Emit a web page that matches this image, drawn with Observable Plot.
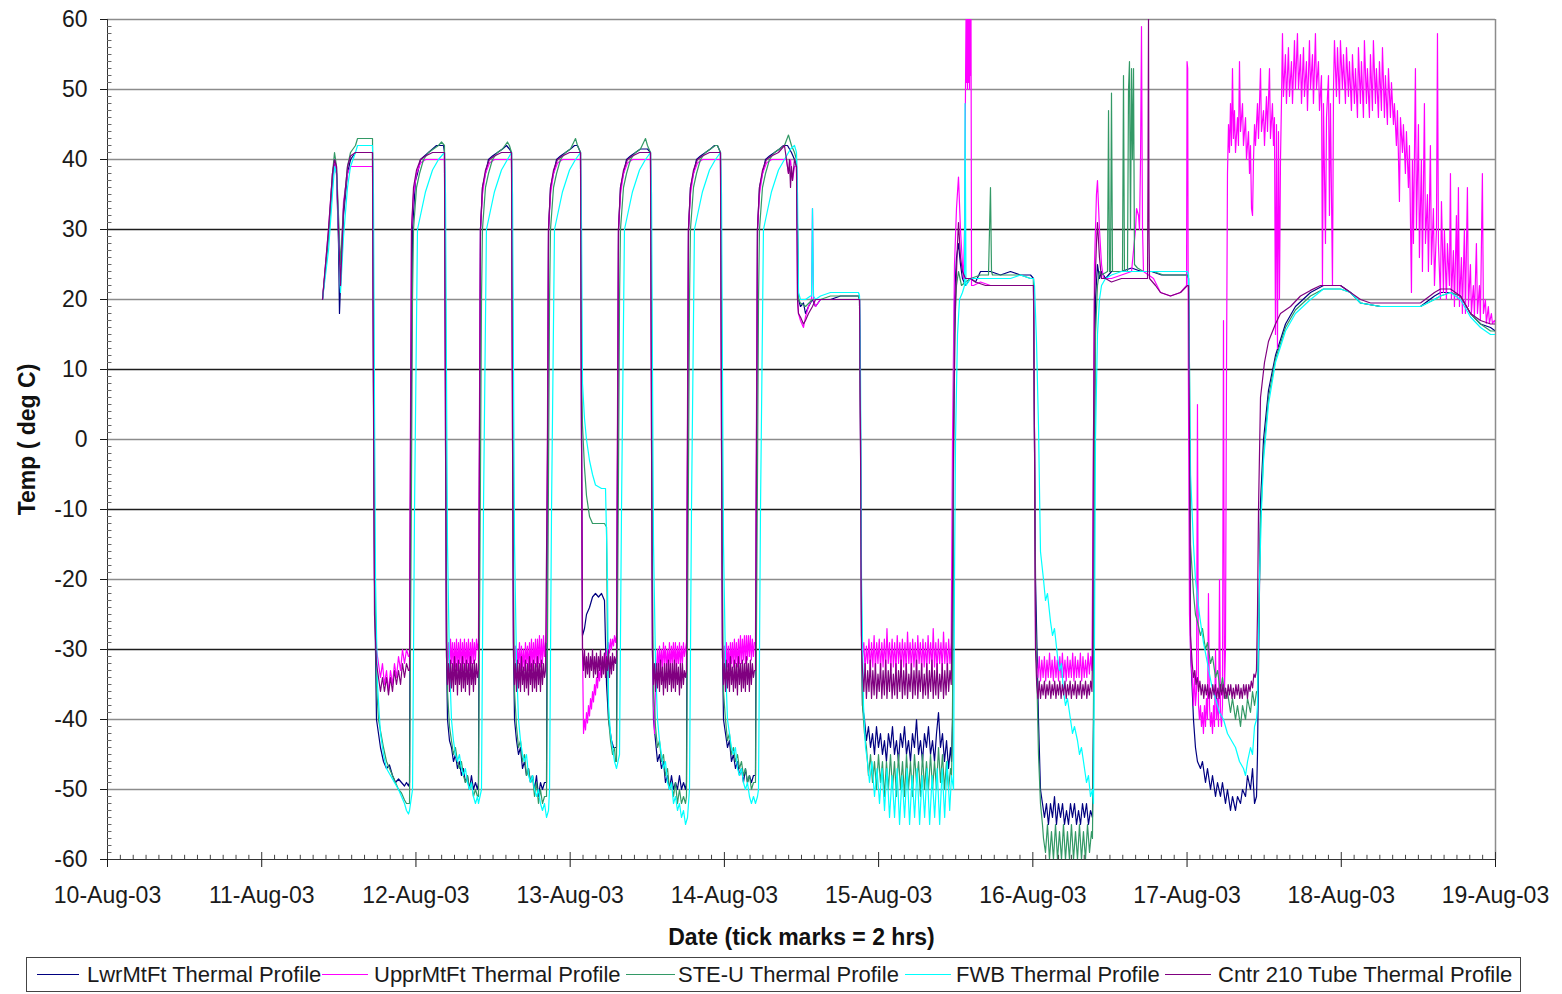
<!DOCTYPE html>
<html><head><meta charset="utf-8">
<script src="https://cdn.jsdelivr.net/npm/d3@7"></script>
<script src="https://cdn.jsdelivr.net/npm/@observablehq/plot@0.6"></script>
<style>
body{margin:0;background:#fff;font-family:"Liberation Sans",Arial,sans-serif;}
#chart{position:absolute;left:0;top:0;}
#legend{position:absolute;left:26px;top:957px;width:1495px;height:35px;border:1px solid #444;box-sizing:border-box;font-size:22px;color:#1a1a1a;}
.sw{position:absolute;top:16px;height:0;border-top:1.5px solid;}
.lt{position:absolute;top:5px;white-space:nowrap;line-height:24px;}
</style></head><body>
<div id="chart"></div><div id="legend"></div>
<script>
// hours since 10-Aug-03 00:00, temperature deg C
const seriesNames = ["LwrMtFt Thermal Profile","UpprMtFt Thermal Profile","STE-U Thermal Profile","FWB Thermal Profile","Cntr 210 Tube Thermal Profile"];
const seriesColors = ["#000080","#ff00ff","#339966","#00ffff","#800080"];
const dayTicks = [0,24,48,72,96,120,144,168,192,216];
const dayLabels = ["10-Aug-03","11-Aug-03","12-Aug-03","13-Aug-03","14-Aug-03","15-Aug-03","16-Aug-03","17-Aug-03","18-Aug-03","19-Aug-03"];
const yTicks = [-60,-50,-40,-30,-20,-10,0,10,20,30,40,50,60];
const darkGrid = [30,10,-10,-30];
const lightGrid = [60,50,40,20,0,-20,-40,-50];

const lwrMtFt = [[33.46,20],[34.39,29],[35.01,37],[35.33,40],[35.64,38],[35.95,28],[36.1,18],[36.26,22],[36.73,32],[37.35,38],[37.82,40],[38.59,41],[40.93,41],[41.24,41],
[41.39,8],[41.55,-20],[41.86,-40],[42.48,-44],[42.95,-46],[43.42,-47],[43.88,-46.5],[44.35,-48],[44.82,-49],[45.29,-48.5],[45.75,-49],[46.22,-49.5],[46.53,-49],[46.84,-49.5],
[47.0,-49],[47.15,-10],[47.31,10],[47.46,30],[47.93,37],[48.24,38],[48.71,40],[49.33,40.5],[49.95,41],[50.58,41.5],[51.2,42],[51.82,42],[52.29,42],[52.44,41],
[52.6,10],[52.75,-30],[52.91,-40],[53.22,-43],[53.53,-44],[53.84,-46],[54.15,-45],[54.46,-47],[54.77,-46],[55.08,-48],[55.39,-47],[55.7,-49],[56.02,-48],[56.33,-50],[56.64,-48],[56.95,-50],[57.26,-49],[57.58,-50],
[57.73,-49],[57.89,-5],[58.04,30],[58.35,36],[58.82,38],[59.29,40],[59.91,40.5],[60.69,41],[61.47,41.5],[62.09,42],[62.55,41.5],[62.87,41],
[63.03,10],[63.18,-30],[63.34,-40],[63.65,-43],[63.96,-45],[64.27,-44],[64.58,-47],[64.89,-46],[65.2,-48],[65.52,-47],[65.83,-49],[66.14,-48],[66.45,-50],[66.76,-48],[67.07,-51],[67.38,-49],[67.69,-50],[68.01,-49],
[68.32,-49],[68.48,-5],[68.63,30],[68.94,36],[69.41,38],[69.88,40],[70.5,40.5],[71.28,41],[72.05,41.5],[72.68,42],[73.14,42],[73.61,41],
[73.77,0],[73.92,-28],[74.23,-27],[74.54,-25],[75.01,-24],[75.48,-22.5],[75.94,-22],[76.41,-22.5],[76.88,-22],[77.34,-23],[77.66,-35],[77.97,-40],[78.43,-43],[78.75,-44],[79.06,-44],
[79.21,-44],[79.37,-5],[79.52,30],[79.83,36],[80.3,38],[80.77,40],[81.39,40.5],[82.17,41],[82.94,41.5],[83.57,41.5],[84.03,41.5],[84.5,41],
[84.66,10],[84.81,-30],[84.97,-40],[85.28,-43],[85.59,-46],[85.9,-45],[86.21,-47],[86.52,-46],[86.83,-49],[87.15,-48],[87.46,-50],[87.77,-48],[88.08,-50],[88.39,-49],[88.7,-50],[89.01,-48],[89.32,-50],[89.64,-49],[89.95,-50],
[90.1,-49],[90.26,-5],[90.41,30],[90.72,36],[91.19,38],[91.66,40],[92.28,40.5],[93.06,41],[93.83,41.5],[94.46,42],[94.92,42],[95.39,41],
[95.55,10],[95.7,-30],[95.86,-40],[96.17,-42],[96.48,-44],[96.79,-43],[97.1,-46],[97.41,-45],[97.72,-47],[98.04,-46],[98.35,-48],[98.66,-47],[98.97,-49],[99.28,-47],[99.59,-49],[99.9,-48],[100.21,-49],[100.53,-48],
[100.84,-48],[101.0,-5],[101.15,30],[101.46,36],[101.93,38],[102.4,40],[103.02,40.5],[103.8,41],[104.57,41.5],[105.2,42],[105.82,42],[106.44,41],[106.91,40],[107.22,39],
[107.38,30],[107.53,20],[107.84,19],[108.31,19.5],[108.62,18],[109.09,19],[109.71,20],[110.18,19],[110.96,20],[112.51,20],[114.07,20.5],[115.63,20.5],[116.87,20.5],
[117.03,20],[117.18,3],[117.34,-28],[117.49,-38],[117.8,-40],
[118.11,-43],[118.42,-41],[118.74,-44],[119.05,-42],[119.36,-45],[119.67,-41],[119.98,-44],[120.29,-42],[120.6,-45],[120.91,-43],[121.22,-46],[121.53,-42],[121.85,-44],[122.16,-41],[122.47,-45],[122.78,-43],[123.09,-46],[123.41,-42],[123.72,-44],[124.03,-41],[124.34,-45],[124.65,-43],[124.96,-46],[125.27,-42],[125.58,-44],[125.9,-40],[126.21,-45],[126.52,-43],[126.83,-46],[127.14,-42],[127.45,-44],[127.76,-41],[128.08,-45],[128.39,-43],[128.7,-46],[129.01,-42],[129.32,-39],[129.63,-44],[129.94,-42],[130.25,-46],[130.57,-43],[130.88,-47],[131.19,-44],[131.35,-46],
[131.5,-40],[131.66,0],[131.81,20],[132.12,26],[132.43,28],[132.74,25],[133.05,23],[133.52,22],[134.3,23],[135.08,22.5],[135.86,24],[137.41,24],[138.97,23.5],[140.52,24],[142.08,23.5],[143.64,23.5],[144.1,23],
[144.26,0],[144.42,-20],[144.88,-40],[145.19,-50],[145.5,-52],[145.81,-54],[146.12,-52],[146.43,-55],[146.75,-52],[147.06,-54],[147.37,-51],[147.68,-55],[147.99,-52],[148.31,-54],[148.62,-52],[148.93,-55],[149.24,-53],[149.55,-55],[149.86,-52],[150.17,-54],[150.48,-52],[150.8,-55],[151.11,-53],[151.42,-55],[151.73,-52],[152.04,-54],[152.35,-52],[152.66,-55],[152.97,-53],[153.28,-54],
[153.44,-40],[153.59,0],[153.75,20],[154.06,25],[154.37,23],[154.69,24],[155.31,23],[156.24,24],[157.8,24],[159.36,24.5],[160.91,24],[162.47,24],[164.02,23.5],[165.58,23.5],[167.14,23.5],[168.07,23.5],[168.23,23],
[168.38,0],[168.54,-30],[169.0,-40],[169.31,-44],[169.62,-46],[170.09,-47],[170.4,-46],[170.87,-49],[171.18,-47],[171.65,-50],[171.96,-48],[172.43,-51],[172.74,-49],[173.2,-51],[173.51,-49],[173.98,-52],[174.29,-50],[174.76,-53],[175.07,-51],[175.54,-53],[175.85,-51],[176.32,-52],[176.63,-50],[177.1,-51],[177.41,-48],[177.87,-50],[178.19,-47],[178.5,-52],[178.81,-51],
[178.96,-45],[179.43,-9],[179.9,0],[180.67,7],[181.76,12],[183.32,16.5],[184.87,19],[187.21,21],[189.23,22],[191.88,22],[193.44,21],[194.99,19.5],[198.1,19],[201.22,19],[204.33,19],[206.5,20.5],[207.44,21],[209.0,21],[210.55,20.5],[212.11,18],[213.67,16.5],[215.23,16],[216.0,15.5]];

const upprMtFt = [[33.46,20],[34.39,30],[35.01,38],[35.33,40],[35.64,38],[35.95,30],[36.26,24],[36.73,34],[37.35,38],[37.82,39],[41.24,39],
[41.39,10],[41.55,-20],[41.86,-30],[42.17,-32],[42.48,-34],[42.79,-32],[43.1,-35],[43.42,-33],[43.73,-36],[44.04,-33],[44.35,-35],[44.66,-32],[44.97,-34],[45.29,-31],[45.6,-33],[45.91,-30],[46.22,-32],[46.53,-30],[46.84,-31],
[47.0,-31],[47.16,5],[47.31,30],[47.62,35],[48.09,38],[48.71,39.5],[49.49,40],[52.44,40],
[52.6,0],[52.75,-29],[52.91,-32],[53.07,-29],[53.22,-33],[53.38,-28.5],[53.53,-32],[53.69,-29],[53.84,-33],[54.0,-29],[54.15,-32.5],[54.31,-28.5],[54.46,-33],[54.62,-29],[54.77,-32],[54.93,-28.5],[55.08,-33],[55.24,-29],[55.39,-32],[55.55,-28.5],[55.7,-33],[55.86,-29],[56.02,-32],[56.17,-28.5],[56.33,-33],[56.48,-29],[56.64,-32],[56.79,-28.5],[56.95,-32],[57.1,-29],[57.26,-31.5],[57.42,-28.5],[57.58,-30],
[57.73,-29],[57.89,5],[58.04,30],[58.35,35],[58.82,38],[59.44,39.5],[60.22,40],[62.87,40],
[63.03,0],[63.18,-29],[63.34,-32.5],[63.49,-29.5],[63.65,-33],[63.8,-30],[63.96,-32],[64.11,-29],[64.27,-33],[64.42,-29.5],[64.58,-32.5],[64.73,-30],[64.89,-33],[65.04,-29],[65.2,-32],[65.36,-29.5],[65.51,-33],[65.67,-29],[65.82,-32.5],[65.98,-28.5],[66.13,-33],[66.29,-29],[66.45,-32],[66.6,-28.5],[66.76,-32.5],[66.91,-28.5],[67.07,-32],[67.22,-28],[67.38,-32.5],[67.53,-28.5],[67.69,-32],[67.85,-28],[68.0,-31],[68.16,-29],
[68.32,-29],[68.48,5],[68.63,30],[68.94,35],[69.41,38],[70.03,39.5],[70.81,40],[73.61,40],
[73.77,0],[73.92,-30],[74.08,-42],[74.23,-40],[74.39,-41.5],[74.54,-39],[74.7,-40.5],[74.85,-38],[75.01,-39.5],[75.17,-37],[75.32,-38.5],[75.48,-36],[75.63,-37.5],[75.79,-35],[75.94,-36.5],[76.1,-34],[76.26,-35.5],[76.41,-33],[76.57,-34.5],[76.72,-32.5],[76.88,-34],[77.03,-31.5],[77.19,-33],[77.34,-30.5],[77.5,-32],[77.66,-30],[77.81,-31],[77.97,-29],[78.12,-30.5],[78.28,-28.5],[78.43,-30],[78.59,-28.5],[78.75,-29.5],[78.9,-28],[79.06,-29],
[79.21,-28],[79.37,5],[79.52,30],[79.83,35],[80.3,38],[80.92,39.5],[81.7,40],[84.5,40],
[84.66,0],[84.81,-30],[84.97,-38],[85.12,-42],[85.28,-35],[85.43,-33],[85.59,-30],[85.74,-33],[85.9,-29.5],[86.05,-32.5],[86.21,-30],[86.36,-33],[86.52,-29],[86.67,-32],[86.83,-29.5],[86.99,-33],[87.14,-30],[87.3,-32.5],[87.45,-29],[87.61,-33],[87.76,-29.5],[87.92,-32],[88.07,-29],[88.23,-32.5],[88.38,-29],[88.54,-33],[88.69,-29.5],[88.85,-32],[89.01,-29],[89.16,-32.5],[89.32,-29.5],[89.47,-32],[89.63,-29],[89.78,-31],[89.94,-30],
[90.1,-29],[90.26,5],[90.41,30],[90.72,35],[91.19,38],[91.81,39.5],[92.59,40],[95.39,40],
[95.55,0],[95.7,-29],[95.86,-32.5],[96.01,-29.5],[96.17,-33],[96.32,-29],[96.48,-32.5],[96.63,-29.5],[96.79,-33],[96.94,-29],[97.1,-32],[97.25,-29],[97.41,-32.5],[97.56,-28.5],[97.72,-32],[97.87,-29],[98.03,-32.5],[98.19,-28.5],[98.34,-32],[98.5,-28],[98.65,-32],[98.81,-28.5],[98.96,-31.5],[99.12,-28],[99.27,-32],[99.43,-28],[99.58,-31.5],[99.74,-28],[99.89,-31],[100.05,-28],[100.2,-31.5],[100.36,-28.5],[100.52,-31],[100.67,-29],
[100.84,-29],[101.0,5],[101.15,30],[101.46,35],[101.93,38],[102.55,39.5],[103.33,40],[105.66,40],[105.97,38],[106.29,40],[106.6,37],[106.91,39],[107.22,39],
[107.38,20],[107.53,18],[107.84,17],[108.31,16],[108.62,17.5],[109.09,19],[109.56,20],[109.71,33],[109.87,20],[110.18,19],[110.96,20],[112.51,20],[114.07,20],[115.63,20],[116.87,20],[117.03,20],
[117.18,0],[117.34,-28],[117.5,-31],[117.7,-29],[117.9,-33],[118.1,-29.5],[118.3,-32],[118.5,-28.5],[118.7,-33],[118.9,-29],[119.1,-32.5],[119.3,-28],[119.5,-33],[119.7,-29],[119.9,-32],[120.1,-28.5],[120.3,-33],[120.5,-29],[120.7,-32.5],[120.9,-28.5],[121.1,-33],[121.3,-27],[121.5,-32],[121.7,-29],[121.9,-33],[122.1,-28.5],[122.3,-32.5],[122.5,-29],[122.7,-33],[122.9,-28],[123.1,-32],[123.3,-29],[123.5,-33],[123.7,-28.5],[123.9,-32.5],[124.1,-29],[124.3,-33],[124.5,-27.5],[124.7,-32],[124.9,-29],[125.1,-33],[125.3,-28.5],[125.5,-32.5],[125.7,-29],[125.9,-33],[126.1,-28],[126.3,-32],[126.5,-29],[126.7,-33],[126.9,-28.5],[127.1,-32.5],[127.3,-29],[127.5,-33],[127.7,-28],[127.9,-32],[128.1,-29],[128.3,-33],[128.5,-27],[128.7,-32.5],[128.9,-29],[129.1,-33],[129.3,-28.5],[129.5,-32],[129.7,-29],[129.9,-33],[130.1,-27.5],[130.3,-32],[130.5,-29],[130.7,-33],[130.9,-28.5],[131.1,-32],[131.3,-29],
[131.5,0],[131.81,25],[132.12,33],[132.43,37.5],[132.74,30],[133.05,25],[133.21,23],[133.37,30],[133.52,50],[133.6,60],[133.68,51],[133.76,60],[133.83,50],[133.91,60],[133.99,51],[134.07,60],[134.15,50],[134.22,60],[134.3,52],[134.38,60],[134.46,22],[134.77,22],[135.86,22.5],[137.41,22],[138.97,22],[140.52,22],[142.08,22],[143.64,22],[144.1,22],
[144.26,0],[144.42,-30],[144.6,-32],[144.8,-34],[145.0,-31],[145.2,-34.5],[145.4,-31.5],[145.6,-34],[145.8,-31],[146.0,-34.5],[146.2,-31.5],[146.4,-34],[146.6,-30.5],[146.8,-34],[147.0,-31.5],[147.2,-34.5],[147.4,-31],[147.6,-34],[147.8,-31.5],[148.0,-34.5],[148.2,-31],[148.4,-34],[148.6,-30.5],[148.8,-34],[149.0,-31.5],[149.2,-34.5],[149.4,-31],[149.6,-34],[149.8,-31.5],[150.0,-34],[150.2,-30.5],[150.4,-34.5],[150.6,-31],[150.8,-34],[151.0,-31.5],[151.2,-34],[151.4,-30.5],[151.6,-34.5],[151.8,-31],[152.0,-34],[152.2,-31.5],[152.4,-34],[152.6,-30.5],[152.8,-33.5],[153.0,-31],[153.2,-33],
[153.44,0],[153.59,25],[153.9,35],[154.06,37],[154.37,30],[154.69,25],[155.0,23],[156.24,23],[157.8,23.5],[159.36,24],[159.98,30],[160.14,33],[160.45,32],[160.6,30],[160.76,40],[160.91,59],[161.07,30],[161.22,24],[162.78,23],[163.87,21],[165.42,20.5],[166.98,21],[167.92,22],[168.0,54],[168.1,53],[168.2,10],
[168.38,-25],[168.54,-30],[168.85,-35],[169.0,-38],[169.16,-33],[169.31,-38],[169.47,-36],[169.62,5],[169.78,-38],[169.93,-40],[170.09,-38],[170.24,-41],[170.4,-39],[170.55,-42],[170.71,-38],[170.87,-41],[171.02,-37],[171.18,-40],[171.33,-22],[171.49,-38],[171.65,-41],[171.8,-39],[171.96,-42],[172.12,-38],[172.27,-41],[172.43,-30],[172.58,-40],[172.74,-37],[172.9,-41],[173.05,-20],[173.2,-39],[173.36,-41],[173.51,-38],[173.67,17],[173.82,-36],[173.98,-30],
[174.14,10],[174.29,38],[174.45,45],[174.6,41],[174.76,48],[174.91,42],[175.07,53],[175.22,43],[175.38,47],[175.54,41],[175.85,46],[176.0,42],[176.16,54],[176.32,44],[176.63,48],[176.78,42],[177.1,46],[177.25,40],[177.56,44],[177.72,38],
[177.87,42],[178.03,33],[178.19,32],[178.34,40],
[178.5,45],[178.65,42],[178.96,48],[179.12,43],[179.43,53],[179.58,44],[179.9,47],[180.05,42],[180.36,49],[180.52,44],[180.83,53],[180.98,43],[181.29,48],[181.45,42],[181.6,46],
[181.76,15],[181.92,45],[182.07,13],[182.23,44],[182.38,20],[182.54,40],[182.69,48],
[182.85,58],[183.0,49],[183.31,55],[183.47,48],[183.78,56],[183.94,49],[184.25,54],[184.41,48],[184.72,57],[184.87,50],[185.18,58],[185.34,50],[185.65,55],[185.81,48],[186.12,56],[186.27,49],[186.58,54],[186.74,47],[187.05,57],[187.21,50],[187.52,55],[187.67,48],[187.98,58],[188.14,50],[188.45,54],[188.61,47],[188.92,52],
[189.07,22],[189.23,48],[189.54,28],[189.7,46],[190.01,52],[190.16,32],[190.32,48],[190.63,22],[190.79,50],
[190.94,57],[191.25,49],[191.41,56],[191.72,48],[191.87,57],[192.18,50],[192.34,55],[192.65,48],[192.81,56],[193.12,49],[193.27,54],[193.58,47],[193.74,55],[194.05,48],[194.21,53],[194.52,46],[194.67,56],[194.98,48],[195.14,54],[195.45,46],[195.6,57],[195.92,48],[196.07,53],[196.38,46],[196.54,55],[196.85,47],[197.0,57],[197.32,48],[197.47,53],[197.78,46],[197.94,54],[198.25,47],[198.41,56],[198.72,46],[198.87,52],[199.18,45],[199.34,53],[199.65,46],[199.81,51],[200.12,45],
[200.27,48],[200.58,42],[200.74,47],[201.05,34],[201.21,46],[201.52,41],[201.67,45],[201.98,38],[202.14,44],[202.45,36],[202.61,42],[202.92,21],[203.07,40],[203.23,28],
[203.54,53],[203.7,30],[204.01,45],[204.16,26],[204.47,40],[204.63,24],[204.94,48],[205.1,28],[205.41,35],[205.56,24],[205.87,42],[206.03,25],[206.34,33],
[206.5,22],[206.81,30],[206.97,58],[207.12,28],[207.43,20],[207.59,34],[207.9,21],[208.05,30],[208.36,20],
[208.52,28],[208.83,22],[208.99,38],[209.14,20],[209.45,27],[209.61,19],[209.92,32],[210.07,20],[210.23,36],[210.39,19],[210.7,26],[210.85,18],[211.16,30],[211.32,18],[211.63,36],[211.79,19],[212.1,25],[212.25,18],[212.56,22],[212.72,17.6],[213.03,28],[213.19,18],[213.5,22],[213.65,17],
[213.96,38],[214.12,18],[214.43,20],[214.58,16.6],[214.89,19],[215.05,16.6],[215.36,18],[215.52,16.6],[215.83,17],[216.0,16.6]];

const steU = [[33.46,20],[34.39,29],[35.01,38],[35.33,41],[35.64,39],[35.95,32],[36.26,25],[36.73,33],[37.35,39],[37.82,41],[38.59,42],[38.91,43],[40.93,43],[41.24,43],
[41.39,20],[41.55,-15],[41.86,-35],[42.17,-40],[42.95,-44],[43.42,-46],[44.35,-48],[44.82,-49],[45.29,-50],[45.75,-50.5],[46.22,-51.5],[46.53,-52],[46.84,-52],
[47.0,-52],[47.31,-5],[47.46,20],[47.62,30],[48.09,36],[48.56,38],[49.18,40],[49.96,41],[50.73,41.5],[51.51,42],[51.98,42.5],[52.44,42],
[52.6,20],[52.75,-20],[52.91,-36],[53.22,-41],[53.53,-43],[53.84,-45],[54.15,-44],[54.46,-46],[54.77,-47],[55.08,-46],[55.39,-48],[55.7,-49],[56.02,-48],[56.33,-50],[56.64,-49],[56.95,-51],[57.26,-50],[57.58,-51],
[57.73,-51],[58.04,-5],[58.2,20],[58.35,30],[58.82,36],[59.29,38],[59.91,40],[60.69,41],[61.47,41.5],[62.24,42.5],[62.55,42],[62.87,41],
[63.03,20],[63.18,-20],[63.34,-36],[63.65,-41],[63.96,-44],[64.27,-43],[64.58,-46],[64.89,-45],[65.2,-48],[65.52,-47],[65.83,-49],[66.14,-48],[66.45,-51],[66.76,-49],[67.07,-52],[67.38,-50],[67.69,-52],[68.01,-51],
[68.32,-51],[68.63,-5],[68.79,20],[68.94,30],[69.41,36],[69.88,38],[70.5,40],[71.28,41],[72.05,41.5],[72.83,43],[73.14,42],[73.61,41],
[73.77,10],[73.92,2],[74.23,-4],[74.54,-8],[75.01,-11],[75.48,-12],[76.41,-12],[77.34,-12],[77.66,-12.5],[77.81,-30],[77.97,-40],[78.28,-43],[78.59,-45],[78.9,-44],[79.06,-46],
[79.21,-46],[79.52,-5],[79.68,20],[79.83,30],[80.3,36],[80.77,38],[81.39,40],[82.17,41],[82.94,41.5],[83.72,43],[84.03,42],[84.5,41],
[84.66,20],[84.81,-20],[84.97,-36],[85.28,-41],[85.59,-44],[85.9,-43],[86.21,-46],[86.52,-45],[86.83,-48],[87.15,-47],[87.46,-50],[87.77,-49],[88.08,-51],[88.39,-49],[88.7,-52],[89.01,-50],[89.32,-52],[89.64,-51],[89.95,-52],
[90.1,-51],[90.41,-5],[90.57,20],[90.72,30],[91.19,36],[91.66,38],[92.28,40],[93.06,41],[93.83,41.5],[94.61,42],[94.92,42],[95.39,41],
[95.55,20],[95.7,-20],[95.86,-36],[96.17,-40],[96.48,-43],[96.79,-42],[97.1,-45],[97.41,-44],[97.72,-46],[98.04,-45],[98.35,-47],[98.66,-46],[98.97,-48],[99.28,-47],[99.59,-49],[99.9,-48],[100.21,-50],[100.53,-49],
[100.84,-49],[101.15,-5],[101.31,20],[101.46,30],[101.93,36],[102.4,38],[103.02,40],[103.8,41],[104.57,41.5],[105.35,42],[105.97,43.5],[106.44,42],[106.91,41],[107.22,40],
[107.38,30],[107.53,20],[107.84,19.5],[108.62,19],[109.71,20],[110.96,20],[112.51,20.5],[114.07,20.5],[115.63,20.5],[116.87,20.5],
[117.03,20],[117.18,0],[117.34,-25],[117.49,-38],[117.8,-42],[118.11,-44],
[118.42,-48],[118.74,-45],[119.05,-49],[119.36,-46],[119.67,-50],[119.98,-45],[120.29,-49],[120.6,-46],[120.91,-51],[121.22,-46],[121.53,-50],[121.85,-45],[122.16,-50],[122.47,-46],[122.78,-51],[123.09,-45],[123.41,-50],[123.72,-46],[124.03,-51],[124.34,-45],[124.65,-50],[124.96,-46],[125.27,-51],[125.58,-45],[125.9,-49],[126.21,-46],[126.52,-51],[126.83,-45],[127.14,-50],[127.45,-46],[127.76,-50],[128.08,-45],[128.39,-50],[128.7,-46],[129.01,-50],[129.32,-44],[129.63,-49],[129.94,-45],[130.25,-50],[130.57,-46],[130.88,-50],[131.19,-47],[131.35,-48],
[131.5,-40],[131.66,-5],[131.81,15],[132.12,22],[132.43,24],[132.9,22],[133.52,22.5],[134.3,23],[135.86,23.5],[137.1,23.5],[137.26,30],[137.41,36],[137.57,24],[137.72,23.5],[138.97,23.5],[140.52,23.5],[142.08,23.5],[143.64,23],[144.1,23],
[144.26,0],[144.42,-25],[144.88,-45],[145.19,-52],[145.5,-55],[145.66,-57],
[145.97,-59],[146.28,-55],[146.59,-60],[146.9,-56],[147.21,-60],[147.53,-55],[147.84,-60],[148.15,-56],[148.46,-60],[148.77,-55],[149.08,-60],[149.39,-56],[149.7,-60],[150.01,-55],[150.33,-60],[150.64,-56],[150.95,-60],[151.26,-55],[151.57,-60],[151.88,-56],[152.19,-60],[152.51,-55],[152.82,-59],[153.13,-56],[153.28,-57],
[153.44,-40],[153.59,-5],[153.75,15],[154.06,22],[154.37,24],[154.69,23.5],[155.62,24],[155.78,47],[155.93,24],[156.09,24],[156.24,49.5],[156.4,24],[157.02,24],[157.95,24],[158.11,52],[158.26,24],[158.73,24],[158.89,50],[159.04,54],[159.2,30],[159.36,53],[159.51,40],[159.67,53],[159.82,25],[160.29,24.5],[161.22,24],[162.78,24],[164.33,23.5],[165.89,23.5],[167.45,23.5],[168.07,23.5],[168.23,23],
[168.38,10],[168.54,-15],[169.0,-22],[169.31,-25],[169.62,-26],[170.09,-28],[170.4,-27],[170.87,-30],[171.18,-29],[171.65,-32],[171.96,-31],[172.43,-34],[172.74,-33],[173.2,-36],[173.51,-34],[173.98,-37],[174.29,-36],[174.76,-39],[175.07,-37],[175.54,-40],[175.85,-38],[176.32,-41],[176.63,-38],[177.1,-40],[177.41,-37],[177.87,-39],[178.19,-36],[178.5,-38],[178.81,-36],
[178.96,-36],[179.43,-12],[179.9,-2],[180.67,6],[181.76,11.5],[183.32,16],[184.87,18.5],[187.21,20.5],[189.23,21.5],[191.88,21.5],[193.44,21],[194.99,19.5],[198.1,19],[201.22,19],[204.33,19],[206.5,20],[207.44,20.5],[209.0,21],[210.55,20.5],[212.11,18],[213.67,16.5],[215.23,15.5],[216.0,15.5]];

const fwb = [[33.46,20],[34.39,27],[35.01,35],[35.33,39],[35.64,38],[35.95,30],[36.26,21],[36.73,29],[37.35,36],[37.82,39],[38.59,41],[38.91,42],[40.93,42],[41.24,42],
[41.39,35],[41.55,5],[41.71,-20],[42.01,-35],[42.48,-42],[42.95,-45],[43.42,-47],[44.04,-48],[44.66,-49],[45.29,-50],[45.75,-51],[46.22,-52],[46.53,-53],[46.84,-53.5],[47.0,-53],
[47.47,-50],[47.78,-10],[48.24,30],[49.49,35.4],[50.58,38.5],[51.51,40],[52.44,41],
[52.6,35],[52.75,10],[52.91,-15],[53.22,-32],[53.53,-40],[53.84,-43],[54.15,-45],[54.46,-46],[54.77,-45],[55.08,-47],[55.39,-48],[55.7,-47],[56.02,-49],[56.33,-50],[56.64,-49],[56.95,-51],[57.26,-52],[57.58,-51],[57.73,-52],
[58.2,-50],[58.51,-10],[58.97,30],[60.22,35.4],[61.31,38.5],[62.24,40],[62.87,41],
[63.03,35],[63.18,10],[63.34,-15],[63.65,-32],[63.96,-40],[64.27,-43],[64.58,-45],[64.89,-46],[65.2,-45],[65.52,-48],[65.83,-49],[66.14,-48],[66.45,-50],[66.76,-51],[67.07,-50],[67.38,-52],[67.69,-53],[68.01,-52],[68.32,-54],[68.63,-53],
[68.79,-50],[69.1,-10],[69.56,30],[70.81,35.4],[71.9,38.5],[72.83,40],[73.61,41],
[73.77,30],[73.92,8],[74.23,3],[74.54,0],[75.01,-3],[75.48,-5],[75.94,-6.5],[76.88,-7],[77.5,-7],[77.81,-20],[77.97,-38],[78.28,-42],[78.59,-44],[78.9,-46],[79.21,-47],
[79.68,-45],[79.99,-10],[80.45,30],[81.7,35.4],[82.79,38.5],[83.72,40],[84.5,41],
[84.66,35],[84.81,10],[84.97,-15],[85.28,-32],[85.59,-40],[85.9,-43],[86.21,-45],[86.52,-47],[86.83,-46],[87.15,-49],[87.46,-50],[87.77,-49],[88.08,-52],[88.39,-51],[88.7,-53],[89.01,-52],[89.32,-54],[89.64,-53],[89.95,-55],[90.26,-54],
[90.57,-50],[90.88,-10],[91.34,30],[92.59,35.4],[93.68,38.5],[94.61,40],[95.39,41],
[95.55,35],[95.7,10],[95.86,-15],[96.17,-32],[96.48,-40],[96.79,-42],[97.1,-44],[97.41,-45],[97.72,-44],[98.04,-47],[98.35,-48],[98.66,-47],[98.97,-49],[99.28,-50],[99.59,-49],[99.9,-51],[100.21,-52],[100.53,-51],[100.84,-52],[101.15,-51],
[101.31,-50],[101.62,-10],[102.08,30],[103.33,35.4],[104.42,38.5],[105.35,40],[106.29,41.5],[106.91,42],[107.22,41],
[107.38,35],[107.53,21],[107.84,20],[108.62,20],[109.4,20.5],[109.56,20.5],[109.71,33],[109.87,20.5],[110.18,20],[110.96,20.5],[112.51,21],[114.07,21],[115.63,21],[116.87,21],[117.03,20.5],
[117.18,10],[117.34,-20],[117.65,-38],[117.96,-44],[118.27,-46],[118.58,-49],[118.97,-46],[119.36,-51],[119.75,-47],[120.14,-52],[120.53,-47],[120.92,-53],[121.31,-47],[121.7,-54],[122.09,-48],[122.48,-54],[122.87,-47],[123.26,-55],[123.65,-48],[124.04,-54],[124.43,-47],[124.82,-55],[125.21,-48],[125.6,-54],[125.99,-47],[126.38,-55],[126.77,-48],[127.16,-54],[127.55,-47],[127.94,-55],[128.33,-48],[128.72,-54],[129.11,-47],[129.5,-55],[129.89,-47],[130.28,-54],[130.67,-46],[131.06,-53],[131.35,-48],[131.66,-50],
[131.81,-20],[131.97,0],[132.28,15],[132.59,20],[133.05,21],[133.37,22],[133.45,48],[133.6,22],[134.3,23],[135.86,23],[137.41,23],[138.97,23],[140.52,23],[142.08,23.5],[143.64,23],[144.1,23],
[144.26,22],[144.57,14],[144.88,2],[145.19,-16],[145.66,-20],[145.97,-23],[146.28,-22],[146.75,-26],[147.06,-28],[147.37,-27],[147.84,-31],[148.15,-33],[148.46,-32],[148.77,-36],[149.08,-38],[149.39,-37],[149.86,-40],[150.17,-42],[150.48,-41],[150.95,-43],[151.26,-45],[151.57,-44],[152.04,-47],[152.35,-49],[152.66,-48],[152.97,-51],[153.28,-50],[153.44,-52],
[153.59,-30],[153.75,0],[154.06,15],[154.37,20],[154.69,22],[155.31,23],[156.24,23.5],[157.8,24],[159.36,24],[160.91,24],[162.47,24],[164.02,24],[165.58,24],[167.14,24],[168.07,24],[168.23,23.5],
[168.38,10],[168.54,-5],[169.0,-15],[169.31,-20],[169.93,-25],[170.55,-29],[171.18,-32],[171.8,-35],[172.43,-37],[173.05,-39],[173.67,-40],[174.29,-42],[174.91,-43],[175.54,-44],[176.16,-46],[176.78,-47],[177.1,-48],[177.41,-46],[177.87,-44],[178.19,-45],[178.5,-41],[178.81,-40],[178.96,-38],
[179.27,-20],[179.58,-10],[179.9,-3],[180.67,5],[181.76,11],[183.32,15.5],[184.87,18],[187.21,20],[189.23,21.5],[191.88,21.5],[193.44,21],[194.99,19.5],[198.1,19],[201.22,19],[204.33,19],[206.5,20],[207.44,20.5],[209.0,21],[210.55,20],[212.11,17.5],[213.67,16],[215.23,15],[216.0,15]];

const cntr210 = [[33.46,20],[34.39,30],[35.01,38],[35.33,40],[35.64,39],[35.95,30],[36.26,22],[36.73,33],[37.35,39],[37.82,40.5],[38.59,41],[41.24,41],
[41.39,5],[41.55,-25],[41.86,-32],[42.17,-34],[42.48,-36],[42.79,-34],[43.1,-36],[43.42,-34],[43.73,-36.5],[44.04,-34],[44.35,-36],[44.66,-33],[44.97,-35],[45.29,-33],[45.6,-35],[45.91,-32],[46.22,-34],[46.53,-32],[46.84,-33],
[47.0,-33],[47.16,0],[47.31,30],[47.62,36],[48.09,38.5],[48.71,40],[49.49,40.5],[50.58,41],[52.44,41],
[52.6,0],[52.75,-31],[52.91,-35],[53.07,-32],[53.22,-36],[53.38,-31.5],[53.53,-35.5],[53.69,-32],[53.84,-36],[54.0,-31],[54.15,-35],[54.31,-32],[54.46,-36.5],[54.62,-31.5],[54.77,-35],[54.93,-32],[55.08,-36],[55.24,-31],[55.39,-35.5],[55.55,-32],[55.7,-36],[55.86,-31.5],[56.02,-35],[56.17,-32],[56.33,-36.5],[56.48,-31],[56.64,-35],[56.79,-32],[56.95,-36],[57.1,-31.5],[57.26,-35],[57.42,-32],[57.58,-34],[57.73,-33],
[57.89,0],[58.04,30],[58.35,36],[58.82,38.5],[59.44,40],[60.22,40.5],[61.31,41],[62.87,41],
[63.03,0],[63.18,-31],[63.34,-35],[63.49,-32],[63.65,-36],[63.8,-31.5],[63.96,-35.5],[64.11,-32],[64.27,-36],[64.42,-31],[64.58,-35],[64.73,-32.5],[64.89,-36],[65.04,-31.5],[65.2,-35.5],[65.36,-32],[65.51,-36.5],[65.67,-31],[65.82,-35],[65.98,-32],[66.13,-36],[66.29,-31.5],[66.45,-35.5],[66.6,-32],[66.76,-36],[66.91,-31],[67.07,-35],[67.22,-32],[67.38,-36],[67.53,-31.5],[67.69,-35],[67.85,-32],[68.0,-34],[68.16,-33],
[68.48,0],[68.63,30],[68.94,36],[69.41,38.5],[70.03,40],[70.81,40.5],[71.9,41],[73.61,41],
[73.77,0],[73.92,-30],[74.08,-33],[74.23,-30],[74.39,-34],[74.54,-31],[74.7,-33.5],[74.85,-30.5],[75.01,-34],[75.17,-31],[75.32,-33],[75.48,-30],[75.63,-34],[75.79,-31],[75.94,-33.5],[76.1,-30.5],[76.26,-34],[76.41,-31],[76.57,-33],[76.72,-30],[76.88,-34],[77.03,-31],[77.19,-33.5],[77.34,-30.5],[77.5,-34],[77.66,-31],[77.81,-33],[77.97,-30],[78.12,-34],[78.28,-31],[78.43,-33.5],[78.59,-30.5],[78.75,-33],[78.9,-31],[79.06,-32],[79.21,-31],
[79.37,0],[79.52,30],[79.83,36],[80.3,38.5],[80.92,40],[81.7,40.5],[82.79,41],[84.5,41],
[84.66,0],[84.81,-31],[84.97,-35],[85.12,-32],[85.28,-36],[85.43,-32],[85.59,-35.5],[85.74,-32],[85.9,-36],[86.05,-31.5],[86.21,-35],[86.36,-32.5],[86.52,-36.5],[86.67,-32],[86.83,-35.5],[86.99,-32],[87.14,-36],[87.3,-31.5],[87.45,-35],[87.61,-32],[87.76,-36],[87.92,-32],[88.07,-35.5],[88.23,-31.5],[88.38,-36],[88.54,-32],[88.69,-35],[88.85,-32.5],[89.01,-36.5],[89.16,-32],[89.32,-35.5],[89.47,-32],[89.63,-35],[89.78,-33],[89.94,-34],
[90.1,-33],[90.26,0],[90.41,30],[90.72,36],[91.19,38.5],[91.81,40],[92.59,40.5],[93.68,41],[95.39,41],
[95.55,0],[95.7,-31],[95.86,-35],[96.01,-32],[96.17,-36],[96.32,-31.5],[96.48,-35.5],[96.63,-32],[96.79,-36],[96.94,-31],[97.1,-35],[97.25,-32.5],[97.41,-36],[97.56,-31.5],[97.72,-35.5],[97.87,-32],[98.03,-36.5],[98.19,-31],[98.34,-35],[98.5,-32],[98.65,-36],[98.81,-31.5],[98.96,-35.5],[99.12,-32],[99.27,-36],[99.43,-31],[99.58,-35],[99.74,-32],[99.89,-36],[100.05,-31.5],[100.2,-35],[100.36,-32],[100.52,-34],[100.67,-33],
[100.84,-33],[101.0,0],[101.15,30],[101.46,36],[101.93,38.5],[102.55,40],[103.33,40.5],[104.42,41],[105.35,42],[105.66,40],[105.97,38],[106.13,40],[106.29,36],[106.44,39],[106.6,37],[106.91,40],[107.22,39],
[107.38,20],[107.53,18],[107.84,17.5],[108.31,16.5],[108.62,17],[109.09,18],[109.71,19],[110.18,20],[112.51,20],[114.07,20],[115.63,20],[116.87,20],[117.03,20],
[117.18,0],[117.34,-30],[117.5,-33],[117.7,-36],[117.9,-32],[118.1,-37],[118.3,-33],[118.5,-36],[118.7,-31.5],[118.9,-37],[119.1,-33],[119.3,-36.5],[119.5,-32],[119.7,-37],[119.9,-33.5],[120.1,-36],[120.3,-32],[120.5,-37],[120.7,-33],[120.9,-36.5],[121.1,-31.5],[121.3,-37],[121.5,-33],[121.7,-36],[121.9,-32],[122.1,-37],[122.3,-33.5],[122.5,-36.5],[122.7,-32],[122.9,-37],[123.1,-33],[123.3,-36],[123.5,-31.5],[123.7,-37],[123.9,-33],[124.1,-36.5],[124.3,-32],[124.5,-37],[124.7,-33.5],[124.9,-36],[125.1,-32],[125.3,-37],[125.5,-33],[125.7,-36.5],[125.9,-31.5],[126.1,-37],[126.3,-33],[126.5,-36],[126.7,-32],[126.9,-37],[127.1,-33.5],[127.3,-36.5],[127.5,-32],[127.7,-37],[127.9,-33],[128.1,-36],[128.3,-31.5],[128.5,-37],[128.7,-33],[128.9,-36.5],[129.1,-32],[129.3,-37],[129.5,-33.5],[129.7,-36],[129.9,-32],[130.1,-37],[130.3,-33],[130.5,-36.5],[130.7,-32],[130.9,-36],[131.1,-33],[131.3,-35],
[131.5,-20],[131.66,0],[131.97,20],[132.28,28],[132.43,31],[132.74,26],[133.05,24],[133.52,23],[134.3,23],[135.08,22.5],[136.64,22],[138.97,22],[140.52,22],[142.08,22],[143.64,22],[144.1,22],
[144.26,0],[144.42,-30],[144.6,-35],[144.8,-37],[145.0,-34.5],[145.2,-37],[145.4,-35],[145.6,-36.5],[145.8,-34.5],[146.0,-37],[146.2,-35],[146.4,-36.5],[146.6,-34.5],[146.8,-37],[147.0,-35],[147.2,-36.5],[147.4,-34.5],[147.6,-37],[147.8,-35],[148.0,-36.5],[148.2,-34.5],[148.4,-37],[148.6,-35],[148.8,-36.5],[149.0,-34.5],[149.2,-37],[149.4,-35],[149.6,-36.5],[149.8,-34.5],[150.0,-37],[150.2,-35],[150.4,-36.5],[150.6,-34.5],[150.8,-37],[151.0,-35],[151.2,-36.5],[151.4,-34.5],[151.6,-37],[151.8,-35],[152.0,-36.5],[152.2,-34.5],[152.4,-37],[152.6,-35],[152.8,-36.5],[153.0,-34.5],[153.2,-36],
[153.3,-30],[153.44,0],[153.59,20],[153.9,28],[154.06,31],[154.37,26],[154.69,23],[155.31,23],[156.24,22.5],[157.8,23],[159.36,23],[160.91,23],[161.85,23],[161.93,40],[162.0,60],[162.08,30],[162.16,23],[163.09,22],[163.87,21],[165.42,20.5],[166.98,21],[168.07,22],[168.23,22],
[168.38,0],[168.54,-28],[168.8,-32],[169.0,-34],[169.2,-33],[169.4,-35],[169.6,-34],[169.8,-36],[170.0,-34.5],[170.2,-36.5],[170.4,-35],[170.6,-37],[170.8,-35],[171.0,-36.5],[171.2,-35],[171.4,-37],[171.6,-35.5],[171.8,-37],[172.0,-35],[172.2,-36.5],[172.4,-35],[172.6,-37],[172.8,-35.5],[173.0,-37],[173.2,-35],[173.4,-36.5],[173.6,-35],[173.8,-37],[174.0,-35.5],[174.2,-37],[174.4,-35],[174.6,-36.5],[174.8,-35],[175.0,-37],[175.2,-35.5],[175.4,-37],[175.6,-35],[175.8,-36.5],[176.0,-35],[176.2,-37],[176.4,-35.5],[176.6,-37],[176.8,-35],[177.0,-36.5],[177.2,-35],[177.4,-37],[177.6,-35],[177.8,-36],[178.0,-34.5],[178.2,-35.5],[178.4,-33.5],[178.6,-34],[178.8,-33],
[178.96,-25],[179.12,-10],[179.43,6],[180.05,11],[180.67,14],[181.76,16.5],[182.54,18],[184.1,19],[185.65,20.5],[187.21,21.3],[188.77,22],[190.32,22],[191.88,22],[193.44,21],[194.99,20],[196.55,19.5],[198.1,19.5],[201.22,19.5],[204.33,19.5],[206.5,21],[207.44,21.5],[209.0,21.5],[210.55,20.5],[212.11,18],[213.67,17],[215.23,16.5],[216.0,16.5]];

const seriesData = [lwrMtFt, upprMtFt, steU, fwb, cntr210];
const minorX = d3.range(0, 217, 2).filter(h => h % 24 !== 0);
const minorY = d3.range(-59, 60, 1).filter(v => v % 10 !== 0);

const W = 1562, H = 955;
const fontFam = "'Liberation Sans', Arial, sans-serif";
const chart = Plot.plot({
  width: W, height: H,
  marginLeft: 107, marginRight: 67, marginTop: 19, marginBottom: H - 859,
  x: {domain: [0, 216]},
  y: {domain: [-60, 60]},
  style: {fontFamily: fontFam, background: "#fff", overflow: "visible"},
  marks: [
    Plot.ruleY(lightGrid, {stroke: "#8c8c8c", strokeWidth: 1.6}),
    Plot.ruleY(darkGrid, {stroke: "#1c1c1c", strokeWidth: 1.6}),
    Plot.ruleX([216], {stroke: "#8c8c8c", strokeWidth: 1.5}),
    ...seriesData.map((s, i) => Plot.line(s, {x: d => d[0], y: d => d[1], stroke: seriesColors[i], strokeWidth: 1.2, clip: true})),
    Plot.ruleX([0], {stroke: "#333", strokeWidth: 1}),
    Plot.ruleY([-60], {stroke: "#333", strokeWidth: 1}),
    Plot.ruleX(minorX, {y1: -60, y2: -59.4, stroke: "#444"}),
    Plot.ruleY(minorY, {x1: 0, x2: 0.7, stroke: "#666"}),
    Plot.ruleX(dayTicks, {y1: -60, y2: -59, stroke: "#333"}),
    Plot.axisX({ticks: dayTicks, tickFormat: d => dayLabels[dayTicks.indexOf(d)], tickSize: 8, tickPadding: 19, fontSize: 23, color: "#1a1a1a", label: null}),
    Plot.axisY({ticks: yTicks, tickFormat: d => String(d), tickSize: 7, tickPadding: 13, fontSize: 23, color: "#1a1a1a", label: null}),
    Plot.text(["Temp ( deg C)"], {frameAnchor: "left", dx: -80, rotate: -90, textAnchor: "middle", lineAnchor: "middle", fontSize: 23, fontWeight: "bold", fill: "#111"}),
    Plot.text(["Date (tick marks = 2 hrs)"], {frameAnchor: "bottom", dy: 78, textAnchor: "middle", lineAnchor: "middle", fontSize: 23, fontWeight: "bold", fill: "#111"})
  ]
});
document.getElementById("chart").appendChild(chart);

// legend
const legendPos = [[10, 52, 60], [295, 341, 347], [599, 648, 651], [878, 924, 929], [1138, 1184, 1191]];
const leg = document.getElementById("legend");
seriesNames.forEach((n, i) => {
  const [a, b, t] = legendPos[i];
  const sw = document.createElement("div");
  sw.className = "sw"; sw.style.left = a + "px"; sw.style.width = (b - a) + "px"; sw.style.borderTopColor = seriesColors[i];
  const tx = document.createElement("div");
  tx.className = "lt"; tx.style.left = t + "px"; tx.textContent = n;
  leg.appendChild(sw); leg.appendChild(tx);
});
</script>
</body></html>
